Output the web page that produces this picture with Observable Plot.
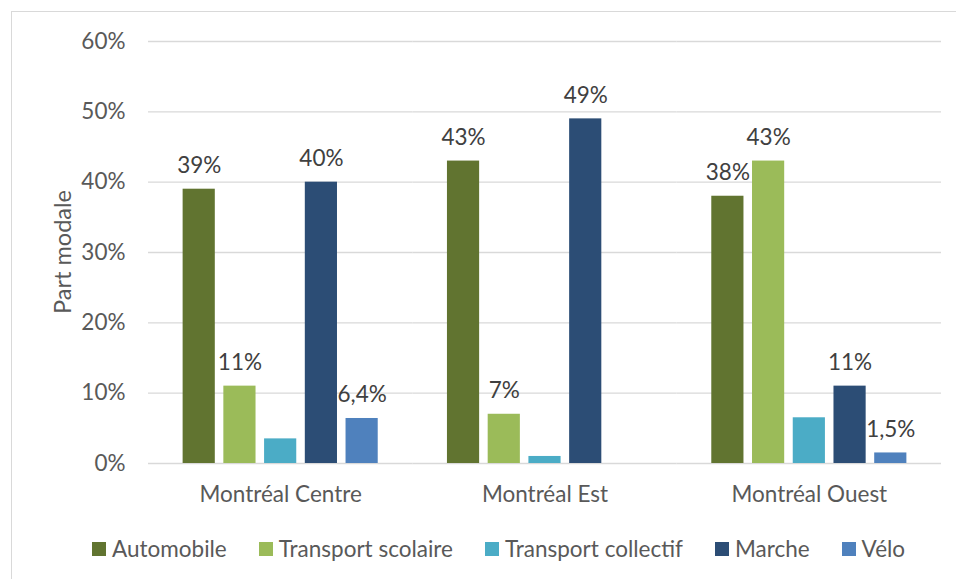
<!DOCTYPE html>
<html>
<head>
<meta charset="utf-8">
<script src="https://cdn.jsdelivr.net/npm/d3@7"></script>
<script src="https://cdn.jsdelivr.net/npm/@observablehq/plot@0.6"></script>
<style>
  html, body { margin: 0; padding: 0; background: #fff; overflow: hidden; }
  #chart { position: relative; width: 956px; height: 579px; font-family: Lato, "Open Sans", sans-serif; overflow: hidden; }
  #frame { position: absolute; left: 11px; top: 11px; width: 1000px; height: 1000px; border: 1px solid #d9d9d9; box-sizing: border-box; }
  #plot { position: absolute; left: 0; top: 0; }
  #ylabel { position: absolute; left: 62px; top: 252px; transform: translate(-50%, -50%) rotate(-90deg); white-space: nowrap; font-size: 23.5px; color: #595959; }
  #legend { position: absolute; left: 92px; top: 536px; display: flex; gap: 32px; font-size: 22.5px; color: #595959; line-height: 26px; }
  #legend .item { display: flex; align-items: center; white-space: nowrap; }
  #legend .sw { width: 14px; height: 14px; margin-right: 6px; display: inline-block; }
</style>
</head>
<body>
<div id="chart">
  <div id="frame"></div>
  <div id="plot"></div>
  <div id="ylabel">Part modale</div>
  <div id="legend"></div>
</div>
<script>
// Regions (groups) and travel modes (series)
const regions = ["Montréal Centre", "Montréal Est", "Montréal Ouest"];
const modes = ["Automobile", "Transport scolaire", "Transport collectif", "Marche", "Vélo"];
const modeColors = ["#617430", "#9bbb59", "#4bacc6", "#2c4d75", "#4f81bd"];

// Modal share per region, one array per mode (same order as regions)
const automobile = [0.39, 0.43, 0.38];
const transportScolaire = [0.11, 0.07, 0.43];
const transportCollectif = [0.035, 0.01, 0.065];
const marche = [0.40, 0.49, 0.11];
const velo = [0.064, 0, 0.015];

// Data labels shown above the bars (null = no label)
const automobileLabels = ["39%", "43%", "38%"];
const scolaireLabels = ["11%", "7%", "43%"];
const collectifLabels = [null, null, null];
const marcheLabels = ["40%", "49%", "11%"];
const veloLabels = ["6,4%", null, "1,5%"];

// Y axis ticks
const yTicks = [0, 0.1, 0.2, 0.3, 0.4, 0.5, 0.6];
const yTickLabels = ["0%", "10%", "20%", "30%", "40%", "50%", "60%"];

const series = [automobile, transportScolaire, transportCollectif, marche, velo];
const seriesLabels = [automobileLabels, scolaireLabels, collectifLabels, marcheLabels, veloLabels];

const rows = [];
regions.forEach((region, i) => {
  modes.forEach((mode, j) => {
    rows.push({region, mode, value: series[j][i], label: seriesLabels[j][i]});
  });
});

const chart = Plot.plot({
  width: 956,
  height: 520,
  marginTop: 41,
  marginBottom: 57,
  marginLeft: 148,
  marginRight: 15,
  style: {fontFamily: "Lato, 'Open Sans', sans-serif", fontSize: "22.5px", color: "#595959", background: "transparent"},
  fx: {domain: regions, padding: 0, round: false, label: null, tickSize: 0, tickPadding: 23, axis: "bottom"},
  x: {domain: modes, axis: null, paddingInner: 0.21, paddingOuter: 0.85, round: false},
  y: {domain: [0, 0.6], ticks: yTicks, tickFormat: d => yTickLabels[yTicks.indexOf(d)], tickSize: 0, tickPadding: 23, label: null},
  color: {domain: modes, range: modeColors},
  marks: [
    Plot.ruleY(yTicks, {stroke: "#d9d9d9", strokeWidth: 1.3}),
    Plot.barY(rows, {fx: "region", x: "mode", y: "value", fill: "mode"}),
    Plot.text(rows.filter(d => d.label), {
      fx: "region", x: "mode", y: "value", text: "label",
      lineAnchor: "bottom", dy: -16, fill: "#404040", fontSize: 22.5
    })
  ]
});
document.getElementById("plot").appendChild(chart);

// Legend below the chart
const legend = d3.select("#legend");
modes.forEach((m, j) => {
  const item = legend.append("div").attr("class", "item");
  item.append("span").attr("class", "sw").style("background", modeColors[j]);
  item.append("span").text(m);
});
</script>
</body>
</html>
